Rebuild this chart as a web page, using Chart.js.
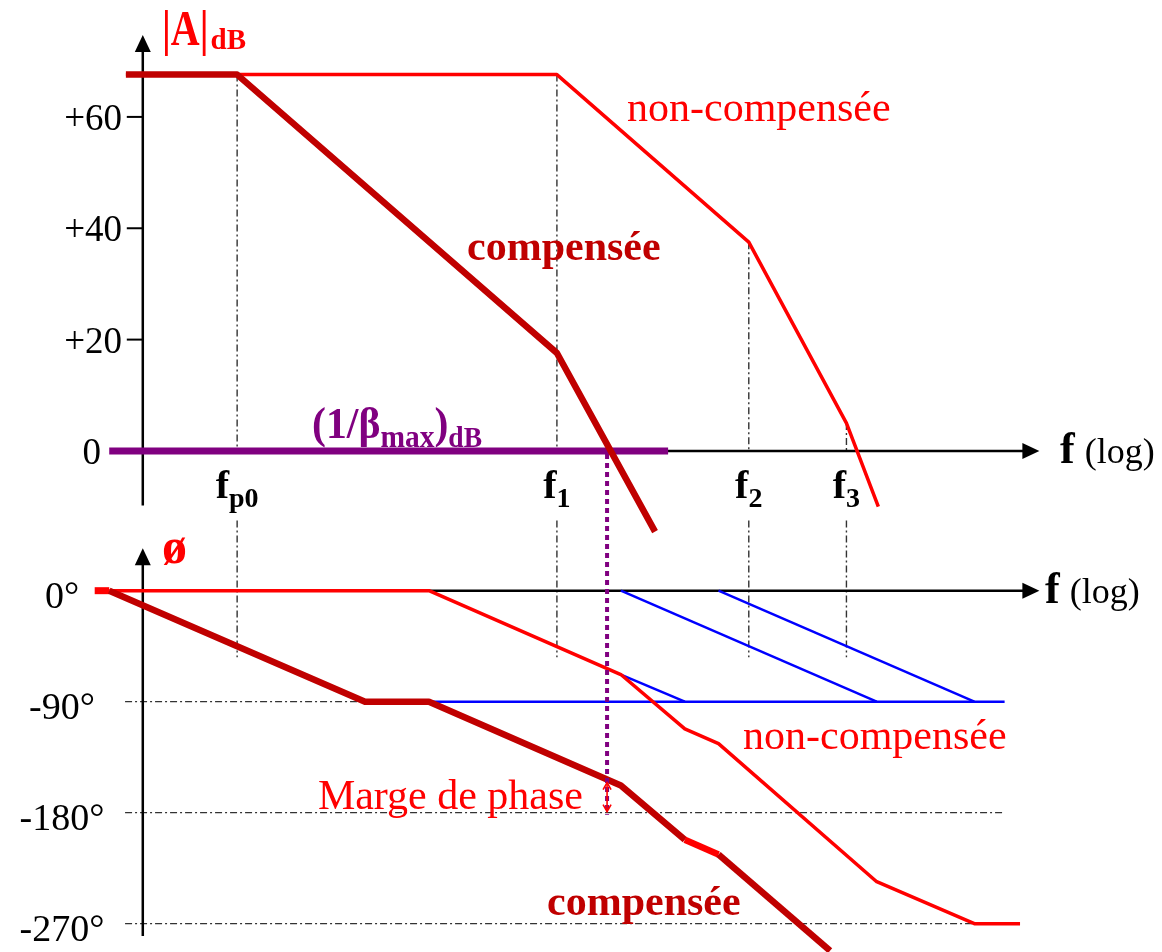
<!DOCTYPE html>
<html>
<head>
<meta charset="utf-8">
<script src="https://cdn.jsdelivr.net/npm/chart.js@4/dist/chart.umd.min.js"></script>
<style>
  html, body { margin: 0; padding: 0; background: #fff; }
  #wrap { position: relative; width: 1162px; height: 952px; }
  canvas { display: block; }
</style>
</head>
<body>
<div id="wrap"><canvas id="bode" width="1162" height="952"></canvas></div>
<script>
// Corner frequencies (Hz) and their subscripts
const cornerNames = ['p0', '1', '2', '3'];
const cornerFreqs = [10, 3162, 1e5, 5.8e5];

// Tick labels
const gainTicks = [60, 40, 20, 0];
const phaseTicks = [0, -90, -180, -270];

// |A| (dB), asymptotic Bode magnitude
const gainFreqUncomp = [1.35, 3162, 1e5, 5.8e5, 1.03e6];
const gainUncomp     = [67.6, 67.6, 37.5, 5, -10];
const gainFreqComp   = [1.35, 10, 3162, 1.85e4];
const gainComp       = [67.6, 67.6, 17.6, -14.5];
const betaFreq = [1.0, 2.34e4];
const betaGain = [0, 0];

// Phase (degrees), asymptotic
const phaseFreqUncomp = [0.77, 1, 316, 1e4, 31623, 5.8e4, 1e6, 5.8e6, 1.32e7];
const phaseUncomp     = [0, 0, 0, -68, -112, -124, -236, -270, -270];
const phaseFreqComp   = [1, 100, 316, 1e4, 31623, 5.8e4, 4.32e5];
const phaseComp       = [0, -90, -90, -158, -202, -214, -292];

// Single-pole phase asymptotes
const asymFreq = [316, 1e7];       const asymPhase = [-90, -90];
const poleF1Freq = [1e4, 31623];   const poleF1Phase = [-68, -90];
const poleF2Freq = [1e4, 1e6];     const poleF2Phase = [0, -90];
const poleF3Freq = [5.8e4, 5.8e6]; const poleF3Phase = [0, -90];

// Unity-gain crossover of the compensated loop and its phase there
const crossoverFreq = 7.8e3;
const crossoverPhase = -154;

const RED = '#ff0000', DARK = '#c00000', PURPLE = '#800080', BLUE = '#0000ff';
const SERIF = '"Liberation Serif", "Times New Roman", serif';

const pts = (xs, ys) => xs.map((x, i) => ({ x, y: ys[i] }));

function txt(ctx, s, x, y, font, color, align, sx) {
  ctx.save();
  ctx.translate(x, y);
  ctx.scale(sx || 1, 1);
  ctx.font = font;
  ctx.fillStyle = color;
  ctx.textAlign = align || 'left';
  ctx.textBaseline = 'alphabetic';
  ctx.fillText(s, 0, 0);
  const w = ctx.measureText(s).width * (sx || 1);
  ctx.restore();
  return w;
}
function measure(ctx, s, font, sx) {
  ctx.save(); ctx.font = font; const w = ctx.measureText(s).width * (sx || 1); ctx.restore(); return w;
}

function cornerGain(f) {
  let i = gainFreqUncomp.indexOf(f);
  if (i > 0) return gainUncomp[i];
  i = gainFreqComp.indexOf(f);
  return gainComp[i];
}

const decor = {
  id: 'bodeDecor',
  beforeDatasetsDraw(chart) {
    const { ctx, scales: { x, gain, phase } } = chart;
    const X = v => x.getPixelForValue(v);
    const G = v => gain.getPixelForValue(v);
    const P = v => phase.getPixelForValue(v);
    const seg = (x1, y1, x2, y2) => { ctx.beginPath(); ctx.moveTo(x1, y1); ctx.lineTo(x2, y2); ctx.stroke(); };
    ctx.save();

    // dash-dot guides
    ctx.strokeStyle = '#333';
    ctx.lineWidth = 1.4;
    ctx.setLineDash([7, 3, 2, 3]);
    cornerFreqs.forEach(f => {
      seg(X(f), G(cornerGain(f)), X(f), G(0));
      seg(X(f), P(57), X(f), P(-54));
    });
    seg(X(1.33), P(-90), X(100), P(-90));
    seg(X(1.33), P(-180), X(1e7), P(-180));
    seg(X(1.33), P(-270), X(5.8e6), P(-270));
    ctx.setLineDash([]);

    // axes
    const ax = X(1.83), tipF = 1.87e7;
    ctx.strokeStyle = '#000';
    ctx.fillStyle = '#000';
    ctx.lineWidth = 2.5;
    const arrowUp = (px, py) => { ctx.beginPath(); ctx.moveTo(px, py); ctx.lineTo(px - 8, py + 17); ctx.lineTo(px + 8, py + 17); ctx.closePath(); ctx.fill(); };
    const arrowRight = (px, py) => { ctx.beginPath(); ctx.moveTo(px, py); ctx.lineTo(px - 17, py - 8); ctx.lineTo(px - 17, py + 8); ctx.closePath(); ctx.fill(); };
    seg(ax, G(-9.8), ax, G(74.7) + 10); arrowUp(ax, G(74.7));
    seg(ax, G(0), X(tipF) - 10, G(0)); arrowRight(X(tipF), G(0));
    seg(ax, P(-280), ax, P(34.5) + 10); arrowUp(ax, P(34.5));
    seg(ax, P(0), X(tipF) - 10, P(0)); arrowRight(X(tipF), P(0));
    ctx.lineWidth = 2;
    gainTicks.filter(v => v !== 0).forEach(v => seg(ax - 16, G(v), ax, G(v)));
    ctx.restore();
  },
  afterDatasetsDraw(chart) {
    const { ctx, scales: { x, gain, phase } } = chart;
    const X = v => x.getPixelForValue(v);
    const G = v => gain.getPixelForValue(v);
    const P = v => phase.getPixelForValue(v);
    ctx.save();

    // crossover marker
    const cx = X(crossoverFreq);
    ctx.strokeStyle = PURPLE;
    ctx.lineWidth = 4;
    ctx.setLineDash([5, 4]);
    ctx.beginPath(); ctx.moveTo(cx, G(0) + 3); ctx.lineTo(cx, P(-180) + 2); ctx.stroke();
    ctx.setLineDash([]);

    // phase margin double arrow
    const y1 = P(crossoverPhase) + 2, y2 = P(-180) - 1;
    ctx.strokeStyle = RED;
    ctx.lineWidth = 1.6;
    ctx.beginPath(); ctx.moveTo(cx, y1); ctx.lineTo(cx, y2); ctx.stroke();
    ctx.beginPath();
    ctx.moveTo(cx - 4, y1 + 7); ctx.lineTo(cx, y1); ctx.lineTo(cx + 4, y1 + 7);
    ctx.moveTo(cx - 4, y2 - 7); ctx.lineTo(cx, y2); ctx.lineTo(cx + 4, y2 - 7);
    ctx.stroke();

    // axis titles
    let w = txt(ctx, '|A|', 162, 45, `bold 50px ${SERIF}`, RED, 'left', 0.8);
    txt(ctx, 'dB', 162 + w + 2, 49, `bold 29px ${SERIF}`, RED);
    txt(ctx, 'ø', 162, 563, `bold 50px ${SERIF}`, RED);

    const fLog = (px, py) => {
      const wf = txt(ctx, 'f', px, py, `bold 44px ${SERIF}`, '#000');
      txt(ctx, '(log)', px + wf + 10, py, `36px ${SERIF}`, '#000');
    };
    fLog(1060, G(0) + 12);
    fLog(1045, P(0) + 12);

    // tick labels
    gainTicks.forEach(v => {
      const s = v > 0 ? '+' + v : String(v);
      txt(ctx, s, v === 0 ? 101 : 122, G(v) + 13, `37px ${SERIF}`, '#000', 'right');
    });
    phaseTicks.forEach(v => {
      txt(ctx, v + '°', 62, P(v) + 17, `38px ${SERIF}`, '#000', 'center');
    });

    // corner frequency labels
    cornerFreqs.forEach((f, i) => {
      const fF = `bold 40px ${SERIF}`, fS = `bold 28px ${SERIF}`;
      const wF = measure(ctx, 'f', fF), wS = measure(ctx, cornerNames[i], fS);
      const x0 = X(f) - (wF + wS) / 2;
      txt(ctx, 'f', x0, G(0) + 47, fF, '#000');
      txt(ctx, cornerNames[i], x0 + wF, G(0) + 56, fS, '#000');
    });

    // 1/beta label
    let bx = 312;
    bx += txt(ctx, '(1/β', bx, 438, `bold 44px ${SERIF}`, PURPLE, 'left', 0.95);
    bx += txt(ctx, 'max', bx, 447, `bold 31px ${SERIF}`, PURPLE, 'left', 0.95);
    bx += txt(ctx, ')', bx, 438, `bold 44px ${SERIF}`, PURPLE, 'left', 0.95);
    txt(ctx, 'dB', bx, 447, `bold 29px ${SERIF}`, PURPLE, 'left', 0.95);

    // curve labels
    txt(ctx, 'non-compensée', 627, 121, `42px ${SERIF}`, RED);
    txt(ctx, 'compensée', 467, 260, `bold 42px ${SERIF}`, DARK);
    txt(ctx, 'non-compensée', 743, 749, `42px ${SERIF}`, RED);
    txt(ctx, 'compensée', 547, 915, `bold 42px ${SERIF}`, DARK);
    txt(ctx, 'Marge de phase', 583, 809, `42px ${SERIF}`, RED, 'right');
    ctx.restore();
  }
};

const line = (data, axis, color, width, extra) => Object.assign({
  data, yAxisID: axis, borderColor: color, borderWidth: width,
  pointRadius: 0, tension: 0, fill: false, borderJoinStyle: 'round'
}, extra || {});

new Chart(document.getElementById('bode'), {
  type: 'line',
  data: {
    datasets: [
      line(pts(phaseFreqComp, phaseComp), 'phase', DARK, 6.5, {
        segment: { borderColor: c => c.p0DataIndex === 4 ? RED : undefined }
      }),
      line(pts(phaseFreqUncomp, phaseUncomp), 'phase', RED, 3.5, {
        segment: { borderWidth: c => c.p0DataIndex === 0 ? 7 : undefined }
      }),
      line(pts(asymFreq, asymPhase), 'phase', BLUE, 2.5),
      line(pts(poleF1Freq, poleF1Phase), 'phase', BLUE, 2.5),
      line(pts(poleF2Freq, poleF2Phase), 'phase', BLUE, 2.5),
      line(pts(poleF3Freq, poleF3Phase), 'phase', BLUE, 2.5),
      line(pts(gainFreqComp, gainComp), 'gain', DARK, 6.5),
      line(pts(betaFreq, betaGain), 'gain', PURPLE, 7),
      line(pts(gainFreqUncomp, gainUncomp), 'gain', RED, 3.5)
    ]
  },
  options: {
    responsive: false,
    animation: false,
    events: [],
    layout: { padding: 0 },
    plugins: { legend: { display: false }, tooltip: { enabled: false } },
    scales: {
      x: { type: 'logarithmic', min: 0.14, max: 1.7e8, display: false },
      gain: { type: 'linear', position: 'left', min: -90, max: 81, display: false },
      phase: { type: 'linear', position: 'left', min: -293, max: 479, display: false }
    }
  },
  plugins: [decor]
});
</script>
</body>
</html>
